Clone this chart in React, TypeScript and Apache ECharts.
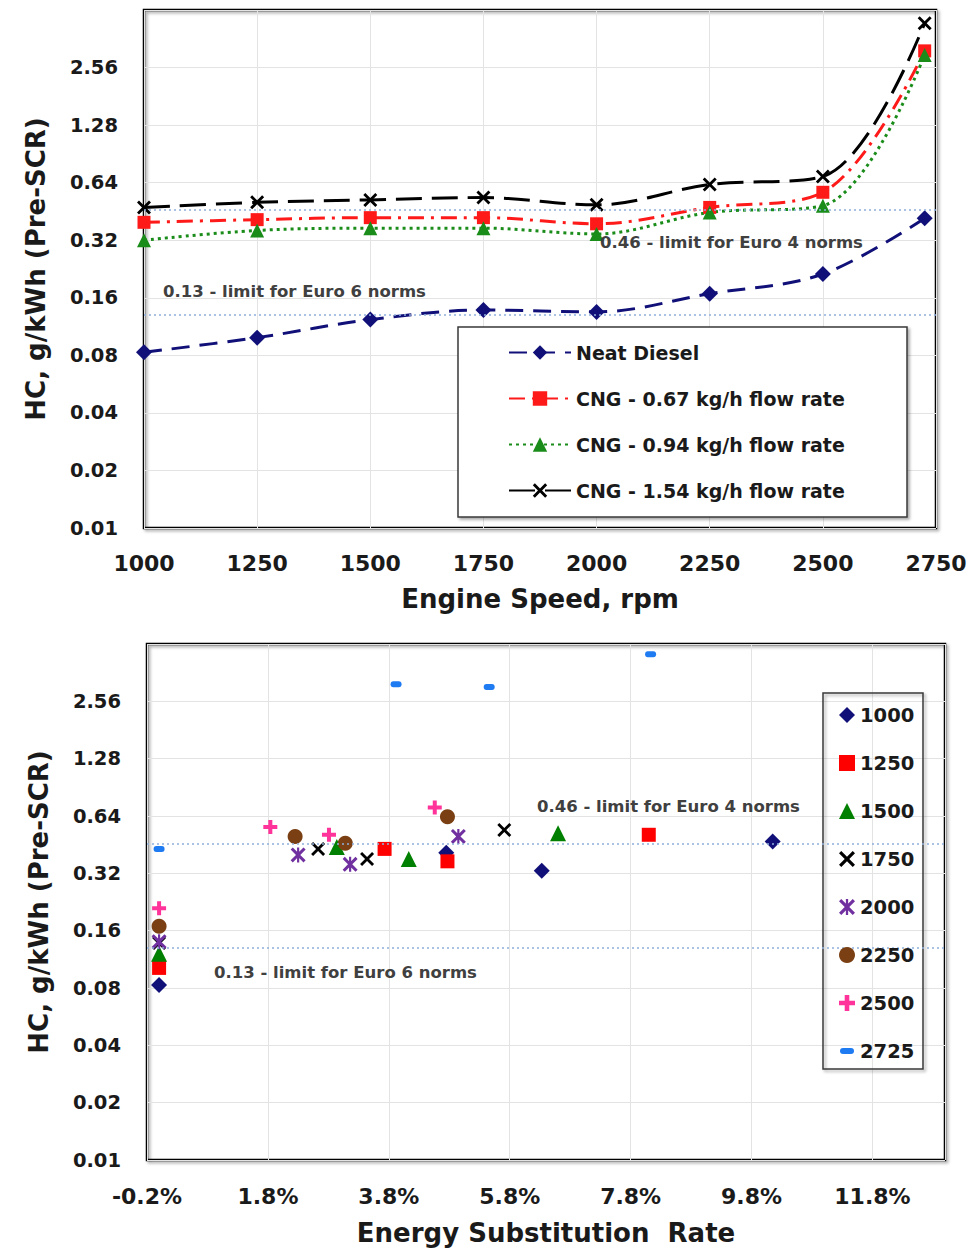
import React, { useEffect, useRef } from 'react';
import * as echarts from 'echarts';

// ---------- data (HC in g/kWh) ----------
const rpm = [1000, 1250, 1500, 1750, 2000, 2250, 2500, 2725];
const neatDiesel = [0.083, 0.099, 0.123, 0.138, 0.135, 0.168, 0.213, 0.417];
const cng067 = [0.397, 0.41, 0.42, 0.42, 0.39, 0.475, 0.57, 3.13];
const cng094 = [0.32, 0.36, 0.37, 0.37, 0.345, 0.447, 0.485, 2.98];
const cng154 = [0.475, 0.505, 0.52, 0.535, 0.49, 0.626, 0.69, 4.37];
const topNames = ['Neat Diesel', 'CNG - 0.67 kg/h flow rate', 'CNG - 0.94 kg/h flow rate', 'CNG - 1.54 kg/h flow rate'];

// energy substitution rate (%), HC (g/kWh)
const esr1000 = [[0, 0.083], [4.75, 0.41], [6.33, 0.33], [10.15, 0.47]];
const esr1250 = [[0, 0.102], [3.73, 0.43], [4.77, 0.37], [8.1, 0.51]];
const esr1500 = [[0, 0.121], [2.94, 0.44], [4.13, 0.38], [6.6, 0.52]];
const esr1750 = [[0, 0.138], [2.63, 0.43], [3.44, 0.38], [5.71, 0.54]];
const esr2000 = [[0, 0.14], [2.3, 0.4], [3.16, 0.357], [4.95, 0.5]];
const esr2250 = [[0, 0.169], [2.25, 0.5], [3.08, 0.46], [4.77, 0.635]];
const esr2500 = [[0, 0.21], [1.84, 0.56], [2.81, 0.51], [4.56, 0.71]];
const esr2725 = [[0, 0.43], [3.92, 3.15], [5.46, 3.04], [8.13, 4.52]];
const speedNames = ['1000', '1250', '1500', '1750', '2000', '2250', '2500', '2725'];

const EURO6 = 0.13;
const EURO4 = 0.46;
const yMin = 0.01;
const yMax = 5.12;
const rpmTicks = { min: 1000, max: 2750, interval: 250 };
const esrTicks = { min: -0.2, max: 13, interval: 2 };

// log2 axis is plotted in units of 0.01 g/kWh so that ticks fall on 0.01 * 2^n
const UNIT = 100;
const toU = (v: number) => Math.round(v * UNIT * 1000) / 1000;

const FONT = "'DejaVu Sans', sans-serif";
const TXT = '#1a1a1a';

const SYM_X = 'path://M0,2L2,0L7,5L12,0L14,2L9,7L14,12L12,14L7,9L2,14L0,12L5,7Z';
const SYM_STAR = 'path://M0,2L2,0L7,5L12,0L14,2L9,7L14,12L12,14L7,9L2,14L0,12L5,7ZM6,0L8,0L8,14L6,14Z';
const SYM_PLUS = 'path://M5,0H9V5H14V9H9V14H5V9H0V5H5Z';
const SYM_DASH = 'path://M3,0H9A3,3 0 0 1 9,6H3A3,3 0 0 1 3,0Z';

export default function App() {
  const ref = useRef<HTMLDivElement>(null);
  useEffect(() => {
    if (!ref.current) return;
    const chart = echarts.init(ref.current, undefined, { renderer: 'svg' });

    const gridStyle = {
      show: true,
      borderColor: '#000',
      borderWidth: 2.5,
      shadowColor: 'rgba(0,0,0,0.35)',
      shadowBlur: 3,
      shadowOffsetX: 2,
      shadowOffsetY: 2,
      containLabel: false,
    };
    const splitLine = { show: true, lineStyle: { color: '#e3e3e3', width: 1 } };
    const yAxisCommon = (gridIndex: number, gap: number) => ({
      type: 'log',
      logBase: 2,
      gridIndex,
      min: toU(yMin),
      max: toU(yMax),
      splitNumber: 9,
      axisLine: { show: false },
      axisTick: { show: false },
      splitLine,
      axisLabel: {
        formatter: (v: number) => (v / UNIT).toFixed(2),
        showMaxLabel: false,
        margin: 26,
        fontFamily: FONT,
        fontWeight: 'bold',
        fontSize: 19.5,
        color: TXT,
      },
      name: 'HC, g/kWh (Pre-SCR)',
      nameLocation: 'middle',
      nameGap: gap,
      nameTextStyle: { fontFamily: FONT, fontWeight: 'bold', fontSize: 26, color: TXT },
    });

    const euroMark = {
      silent: true,
      symbol: ['none', 'none'],
      label: { show: false },
      lineStyle: { color: '#8fb0dc', type: [2, 3], width: 1.5 },
      data: [{ yAxis: toU(EURO6) }, { yAxis: toU(EURO4) }],
    };

    const lineSeries = (
      name: string,
      vals: number[],
      color: string,
      dash: number[],
      symbol: string,
      size: number,
      withMark: boolean,
    ) => ({
      type: 'line',
      name,
      xAxisIndex: 0,
      yAxisIndex: 0,
      data: rpm.map((r, i) => [r, toU(vals[i])]),
      smooth: 0.35,
      symbol,
      symbolSize: size,
      lineStyle: { color, width: 3, type: dash },
      itemStyle: { color, borderWidth: 0 },
      markLine: withMark ? euroMark : undefined,
    });

    const scatterSeries = (name: string, pts: number[][], color: string, symbol: string, size: any) => ({
      type: 'scatter',
      name,
      xAxisIndex: 1,
      yAxisIndex: 1,
      data: pts.map((p) => [p[0], toU(p[1])]),
      symbol,
      symbolSize: size,
      itemStyle: { color, opacity: 1 },
    });

    const labelText = (x: number, y: number, text: string) => ({
      type: 'text',
      x,
      y,
      z: 10,
      style: {
        text,
        fontFamily: FONT,
        fontWeight: 'bold',
        fontSize: 16.5,
        fill: '#404040',
        align: 'left',
        verticalAlign: 'middle',
      },
    });

    const option: any = {
      animation: false,
      backgroundColor: '#ffffff',
      grid: [
        { left: 144, top: 10, width: 792, height: 518, ...gridStyle },
        { left: 147, top: 644, width: 798, height: 516, ...gridStyle },
      ],
      xAxis: [
        {
          type: 'value',
          gridIndex: 0,
          ...rpmTicks,
          axisLine: { show: false },
          axisTick: { show: false },
          splitLine,
          axisLabel: {
            margin: 24,
            formatter: (v: number) => String(v),
            fontFamily: FONT,
            fontWeight: 'bold',
            fontSize: 22,
            color: TXT,
          },
          name: 'Engine Speed, rpm',
          nameLocation: 'middle',
          nameGap: 58,
          nameTextStyle: { fontFamily: FONT, fontWeight: 'bold', fontSize: 26, color: TXT },
        },
        {
          type: 'value',
          gridIndex: 1,
          ...esrTicks,
          axisLine: { show: false },
          axisTick: { show: false },
          splitLine,
          axisLabel: {
            margin: 25,
            showMaxLabel: false,
            formatter: (v: number) => `${v.toFixed(1)}%`,
            fontFamily: FONT,
            fontWeight: 'bold',
            fontSize: 22,
            color: TXT,
          },
          name: 'Energy Substitution  Rate',
          nameLocation: 'middle',
          nameGap: 60,
          nameTextStyle: { fontFamily: FONT, fontWeight: 'bold', fontSize: 26, color: TXT },
        },
      ],
      yAxis: [yAxisCommon(0, 95), yAxisCommon(1, 95)],
      legend: [
        {
          orient: 'vertical',
          left: 508,
          top: 343,
          padding: 0,
          itemWidth: 62,
          itemHeight: 18,
          itemGap: 27,
          data: topNames,
          textStyle: { fontFamily: FONT, fontWeight: 'bold', fontSize: 19, color: TXT },
          z: 12,
        },
        {
          orient: 'vertical',
          left: 839,
          top: 705,
          padding: 0,
          itemWidth: 16,
          itemHeight: 16,
          itemGap: 28,
          data: speedNames.map((n) =>
            n === '2725' ? { name: n, icon: 'path://M4,5H12A3,3 0 0 1 12,11H4A3,3 0 0 1 4,5ZM0,0L0,0M16,16L16,16' } : n,
          ),
          textStyle: { fontFamily: FONT, fontWeight: 'bold', fontSize: 19.5, color: TXT },
          z: 12,
        },
      ],
      graphic: [
        {
          type: 'rect',
          z: 3,
          shape: { x: 458, y: 327, width: 449, height: 190 },
          style: {
            fill: '#ffffff',
            stroke: '#3a3a3a',
            lineWidth: 1.5,
            shadowBlur: 3,
            shadowColor: 'rgba(0,0,0,0.35)',
            shadowOffsetX: 2,
            shadowOffsetY: 2,
          },
        },
        {
          type: 'rect',
          z: 3,
          shape: { x: 823, y: 693, width: 100, height: 376 },
          style: {
            fill: 'none',
            stroke: '#3a3a3a',
            lineWidth: 1.5,
            shadowBlur: 3,
            shadowColor: 'rgba(0,0,0,0.35)',
            shadowOffsetX: 2,
            shadowOffsetY: 2,
          },
        },
        labelText(163, 291, '0.13 - limit for Euro 6 norms'),
        labelText(600, 242, '0.46 - limit for Euro 4 norms'),
        labelText(214, 972, '0.13 - limit for Euro 6 norms'),
        labelText(537, 806, '0.46 - limit for Euro 4 norms'),
      ],
      series: [
        lineSeries(topNames[0], neatDiesel, '#101078', [18, 10], 'diamond', 16, true),
        lineSeries(topNames[1], cng067, '#ff1a1a', [16, 7, 3, 7], 'rect', 13, false),
        lineSeries(topNames[2], cng094, '#1a8c1a', [3, 4], 'triangle', 14, false),
        lineSeries(topNames[3], cng154, '#000000', [26, 10], SYM_X, 14, false),
        { ...scatterSeries(speedNames[0], esr1000, '#101078', 'diamond', 16), markLine: euroMark },
        scatterSeries(speedNames[1], esr1250, '#ff0000', 'rect', 14),
        scatterSeries(speedNames[2], esr1500, '#008000', 'triangle', 16),
        scatterSeries(speedNames[3], esr1750, '#000000', SYM_X, 14),
        scatterSeries(speedNames[4], esr2000, '#7030a0', SYM_STAR, 15),
        scatterSeries(speedNames[5], esr2250, '#7a3f12', 'circle', 15),
        scatterSeries(speedNames[6], esr2500, '#ff3399', SYM_PLUS, 14),
        scatterSeries(speedNames[7], esr2725, '#1f7bf2', SYM_DASH, [11, 6]),
      ],
    };
    chart.setOption(option);
    return () => chart.dispose();
  }, []);

  return (
    <div
      ref={ref}
      style={{ position: 'fixed', left: 0, top: 0, width: 971, height: 1252, background: '#fff' }}
    />
  );
}
